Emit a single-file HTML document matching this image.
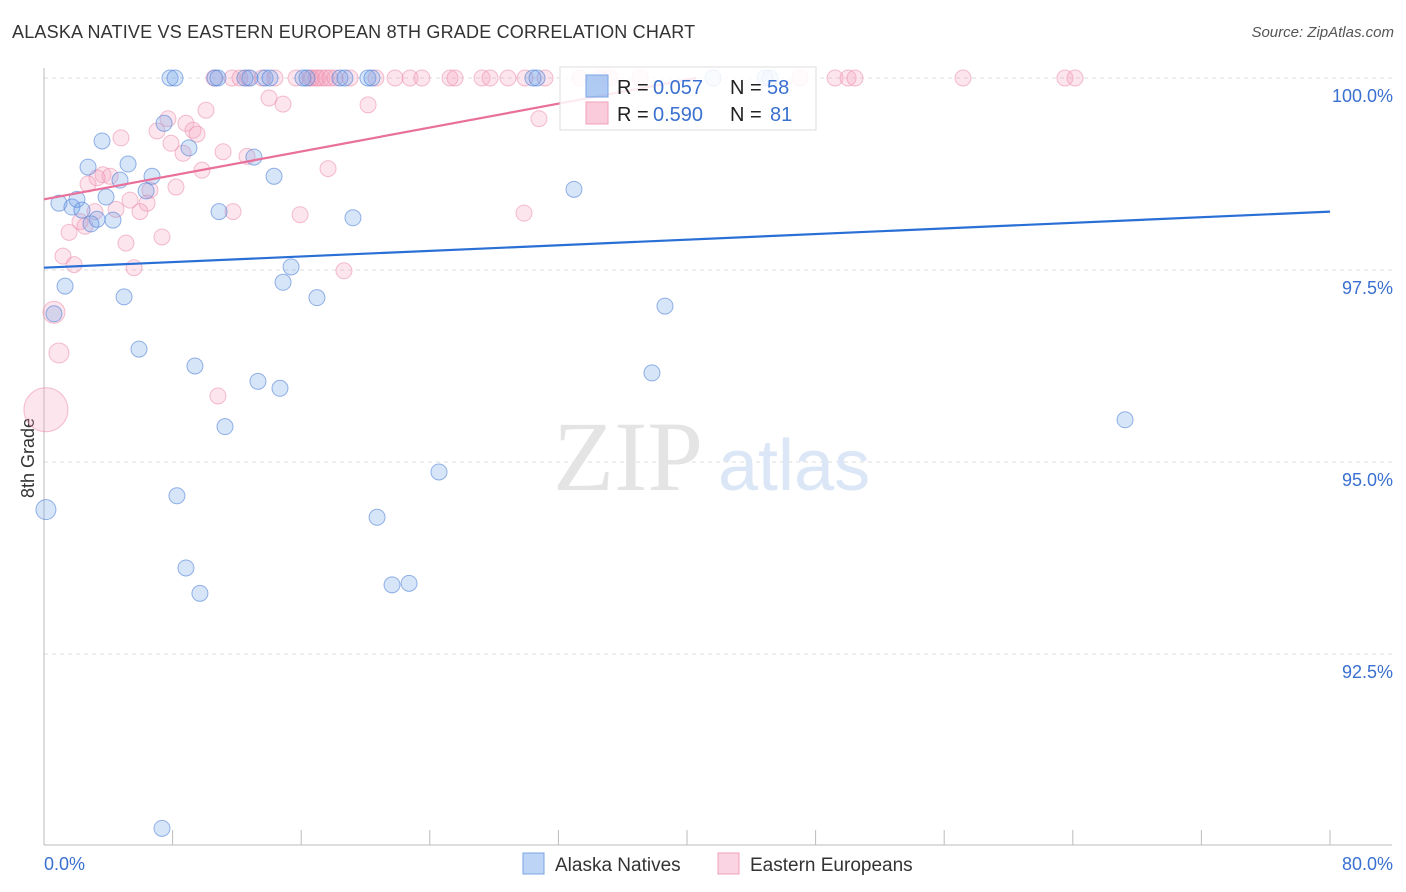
<!DOCTYPE html>
<html><head><meta charset="utf-8"><style>
body{margin:0;background:#fff;font-family:"Liberation Sans",sans-serif;}
#wrap{position:relative;width:1406px;height:892px;overflow:hidden;}
.t{position:absolute;white-space:nowrap;}
</style></head><body>
<div id="wrap">
<div class="t" style="left:12px;top:22px;font-size:18px;color:#333;letter-spacing:0.2px">ALASKA NATIVE VS EASTERN EUROPEAN 8TH GRADE CORRELATION CHART</div>
<div class="t" style="right:12px;top:24px;font-size:15px;color:#555;font-style:italic">Source: ZipAtlas.com</div>
<div class="t" style="font-size:18px;color:#333;transform:rotate(-90deg);transform-origin:0 0;top:498px;left:18px">8th Grade</div>
<svg id="svg" width="1406" height="892" style="position:absolute;left:0;top:0"></svg>
</div>
<script>
const xTicks=[0,10,20,30,40,50,60,70,80];
const yTicks=[100,97.5,95,92.5];
const yTickLabels=["100.0%","97.5%","95.0%","92.5%"];
const blueX=[7.84,8.15,10.64,10.82,12.5,12.81,13.75,14.06,16.11,16.36,18.41,18.72,20.15,20.4,30.42,30.67,41.62,44.85,45.16,7.47,3.61,2.74,5.23,13.06,9.02,6.72,4.73,14.31,32.97,0.93,1.74,2.05,2.36,3.86,6.35,3.3,2.92,4.29,10.89,19.22,15.37,14.87,1.31,4.98,16.98,0.62,38.63,5.91,9.39,13.31,14.68,37.82,11.26,67.25,24.57,8.27,0.12,20.72,8.83,9.7,21.65,22.71,7.34];
const blueY=[100,100,100,100,100,100,100,100,100,100,100,100,100,100,100,100,100,100,100,99.41,99.18,98.84,98.88,98.97,99.09,98.72,98.67,98.72,98.55,98.37,98.32,98.42,98.28,98.45,98.53,98.16,98.1,98.15,98.26,98.18,97.54,97.34,97.29,97.15,97.14,96.93,97.03,96.47,96.25,96.05,95.96,96.16,95.46,95.55,94.87,94.56,94.38,94.28,93.62,93.29,93.4,93.42,90.23];
const pinkX=[10.58,11.7,12.19,12.69,13.56,14.37,15.68,16.55,16.67,16.92,17.05,17.29,17.54,17.79,18.1,19.04,20.65,21.84,22.77,23.51,25.26,25.57,27.25,27.75,28.86,29.92,31.17,33.34,34.59,35.21,37.08,47.03,49.21,50.02,50.45,57.17,63.51,64.14,14.0,14.87,20.16,10.08,7.71,8.83,9.27,9.52,7.03,4.79,30.79,7.9,8.65,12.63,11.14,9.83,17.67,3.67,4.11,3.3,2.74,8.21,6.59,5.35,6.41,4.48,5.97,3.17,15.93,11.76,29.86,2.24,2.55,1.56,7.34,5.1,1.18,1.87,5.6,18.66,0.62,0.93,10.82,0.12];
const pinkY=[100,100,100,100,100,100,100,100,100,100,100,100,100,100,100,100,100,100,100,100,100,100,100,100,100,100,100,100,100,100,100,100,100,100,100,100,100,100,99.74,99.66,99.65,99.58,99.47,99.41,99.32,99.27,99.31,99.22,99.47,99.15,99.02,98.98,99.04,98.8,98.82,98.74,98.72,98.7,98.62,98.58,98.54,98.41,98.37,98.29,98.26,98.26,98.22,98.26,98.24,98.13,98.07,97.99,97.93,97.85,97.68,97.57,97.53,97.49,96.95,96.42,95.86,95.68];
const blueTrend=[97.53,98.26];
const pinkTrend=[98.42,99.67,32.1];
const X=v=>44+v*16.075;
const Y=v=>78+(100-v)*76.8;
const svg=document.getElementById('svg');
const NS='http://www.w3.org/2000/svg';
function mk(tag,attrs,parent){const e=document.createElementNS(NS,tag);for(const k in attrs)e.setAttribute(k,attrs[k]);(parent||svg).appendChild(e);return e;}
yTicks.forEach((t,i)=>{
 const l=mk('line',{x1:44,x2:1392,y1:Y(t),y2:Y(t),stroke:'#ddd','stroke-dasharray':'4,4'});
 
 
 const tx=mk('text',{x:1393,y:Y(t)+24,'text-anchor':'end','font-size':18,fill:'#3a70d0','font-family':'Liberation Sans'});
 tx.textContent=yTickLabels[i];
 
 
});
mk('line',{x1:44,x2:44,y1:68,y2:845,stroke:'#bbb'});
mk('line',{x1:44,x2:1392,y1:845,y2:845,stroke:'#bbb'});
for(let v=0;v<=80;v+=8){const tk=mk('line',{x1:X(v),x2:X(v),y1:830,y2:845,stroke:'#bbb'});
 
 }
const xl0=mk('text',{x:44,y:870,'font-size':18,fill:'#3a70d0'});xl0.textContent='0.0%';


const xl1=mk('text',{x:1393,y:870,'font-size':18,fill:'#3a70d0','text-anchor':'end'});xl1.textContent='80.0%';


const wm=mk('text',{x:553,y:490,'font-size':100,fill:'#e4e4e4','font-family':'Liberation Serif'});wm.textContent='ZIP';


const wm2=mk('text',{x:718,y:490,'font-size':72,fill:'#dbe6f6'});wm2.textContent='atlas';


function pts(xs,ys,fill,stroke,name,big){xs.forEach((x,i)=>{let r=8;if(big&&big[i])r=big[i];
 const c=mk('circle',{cx:X(x),cy:Y(ys[i]),r:r,fill:fill,stroke:stroke,'stroke-width':1});
 
 });}
const pinkBig={78:11,79:10,81:22};
pts(pinkX,pinkY,'rgba(245,160,190,0.28)','rgba(235,140,170,0.55)','eastern-european-point',pinkBig);
pts(blueX,blueY,'rgba(110,160,235,0.28)','rgba(80,130,215,0.6)','alaska-native-point',{56:10});
const bl=mk('line',{x1:X(0),y1:Y(blueTrend[0]),x2:X(80),y2:Y(blueTrend[1]),stroke:'#2a6fd6','stroke-width':2.2});


const slope=(pinkTrend[1]-pinkTrend[0])/pinkTrend[2];
const xEnd=(100-pinkTrend[0])/slope;
const pl=mk('line',{x1:X(0),y1:Y(pinkTrend[0]),x2:X(xEnd),y2:Y(100),stroke:'#e8709a','stroke-width':2.2});


const lg=mk('g',{});


mk('rect',{x:560,y:67,width:256,height:63,fill:'rgba(255,255,255,0.85)',stroke:'#ddd'},lg);
mk('rect',{x:586,y:75,width:22,height:22,fill:'rgba(110,160,235,0.55)',stroke:'#7aa4e6'},lg);
mk('rect',{x:586,y:102,width:22,height:22,fill:'rgba(245,160,190,0.55)',stroke:'#f0a0b8'},lg);
function lt(x,y,s,c,a){const t=mk('text',{x:x,y:y,'font-size':20,fill:c,'text-anchor':a||'start'},lg);t.textContent=s;return t;}
lt(617,94,'R = ','#222');lt(653,94,'0.057','#3a70d0');lt(730,94,'N = ','#222');lt(767,94,'58','#3a70d0');
lt(617,121,'R = ','#222');lt(653,121,'0.590','#3a70d0');lt(730,121,'N = ','#222');lt(770,121,'81','#3a70d0');
const b1=mk('rect',{x:523,y:853,width:21,height:21,fill:'rgba(110,160,235,0.45)',stroke:'#7aa4e6'});


const b1t=mk('text',{x:555,y:871,'font-size':19,fill:'#333'});b1t.textContent='Alaska Natives';


const b2=mk('rect',{x:718,y:853,width:21,height:21,fill:'rgba(245,160,190,0.45)',stroke:'#f0a0b8'});


const b2t=mk('text',{x:750,y:871,'font-size':19,fill:'#333'});b2t.textContent='Eastern Europeans';


</script>
</body></html>
